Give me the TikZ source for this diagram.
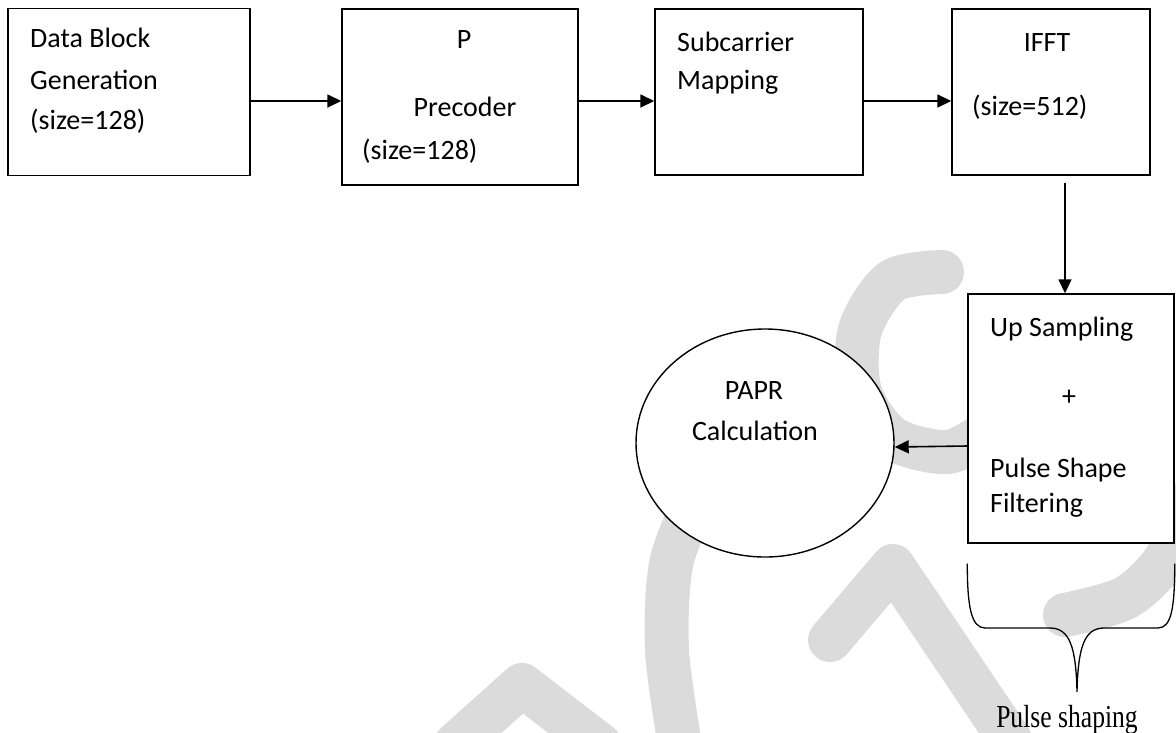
\documentclass[tikz,border=0pt]{standalone}
\usepackage{graphicx}
\usepackage{fontspec}
\setmainfont{Carlito}
\newfontfamily\tnr{Liberation Serif}
\usetikzlibrary{arrows.meta,shapes.geometric}
\begin{document}
\begin{tikzpicture}[x=1pt,y=-1pt,
  box/.style={draw, line width=1.4pt, fill=white, inner sep=0pt},
  arr/.style={line width=1.6pt, -{Triangle[length=14pt,width=13pt]}},
  lbl/.style={inner sep=0pt, font=\fontsize{28}{34}\selectfont},
  wm/.style={draw=black!14, line width=44pt, line cap=round, line join=round}]
\useasboundingbox[fill=white] (0,0) rectangle (1176,732);

% watermark
\draw[wm] plot[smooth] coordinates {(942,272) (892,281) (860,330) (860,392) (892,438) (948,452) (990,430)};
\draw[wm] plot[smooth] coordinates {(1065,615) (1125,598) (1165,560) (1190,500)};
\draw[wm] (830,640) -- (893,566) -- (1010,740);
\draw[wm] plot[smooth] coordinates {(705,480) (672,560) (667,650) (680,745)};
\draw[wm] (455,745) -- (522,685) -- (600,745);

% boxes
\node[box, minimum width=242pt, minimum height=167pt] (b1) at (129,92) {};
\node[box, minimum width=236pt, minimum height=176pt] (b2) at (460,97) {};
\node[box, minimum width=208pt, minimum height=166pt] (b3) at (759,92) {};
\node[box, minimum width=198pt, minimum height=166pt] (b4) at (1051,92) {};
\node[box, minimum width=206pt, minimum height=249pt] (b5) at (1071,418.5) {};
\node[ellipse, draw, line width=1.4pt, fill=white, minimum width=258pt, minimum height=228pt, inner sep=0pt] (pa) at (765,443) {};

% labels
\node[lbl, anchor=mid west] (t1a) at (30,45) {Data Block};
\node[lbl, anchor=mid west] (t1b) at (30,87) {Generation};
\node[lbl, anchor=mid west] (t1c) at (30,127) {(size=128)};
\node[lbl, anchor=mid] (t2a) at (464,46) {P};
\node[lbl, anchor=mid] (t2b) at (465,114) {Precoder};
\node[lbl, anchor=mid west] (t2c) at (362,157) {(size=128)};
\node[lbl, anchor=mid west] (t3a) at (677,49) {Subcarrier};
\node[lbl, anchor=mid west] (t3b) at (677,87) {Mapping};
\node[lbl, anchor=mid] (t4a) at (1047,49) {IFFT};
\node[lbl, anchor=mid west] (t4b) at (972,113) {(size=512)};
\node[lbl, anchor=mid west] (t5a) at (990,334) {Up Sampling};
\node[lbl, anchor=mid] (t5b) at (1069,403) {+};
\node[lbl, anchor=mid west] (t5c) at (990,475) {Pulse Shape};
\node[lbl, anchor=mid west] (t5d) at (990,510) {Filtering};
\node[lbl, anchor=mid] (t6a) at (754,397) {PAPR};
\node[lbl, anchor=mid] (t6b) at (755,438) {Calculation};

% connectors
\coordinate (ay) at (0,101);
\draw[arr] (b1.east |- ay) -- (b2.west |- ay);
\draw[arr] (b2.east |- ay) -- (b3.west |- ay);
\draw[arr] (b3.east |- ay) -- (b4.west |- ay);
\coordinate (vx) at (1065,0);
\coordinate (b4s) at ([yshift=-7pt]b4.south);
\draw[arr] (b4s -| vx) -- (b5.north -| vx);
\coordinate (py) at (0,446);
\draw[arr] (b5.west |- py) -- ([yshift=-4pt]pa.east);

% brace
\coordinate (bl) at ([yshift=-20pt]b5.south west);
\coordinate (br) at ([yshift=-20pt]b5.south east);
\coordinate (tip) at (1077,692);
\draw[line width=1.3pt] (bl) .. controls +(0,42) and +(-14,0) .. (985,628) -- (1050,628)
  .. controls (1070,628) and (1076,648) .. (tip)
  .. controls (1078,648) and (1084,628) .. (1104,628) -- (1158,628)
  .. controls +(14,0) and +(0,42) .. (br);
\node[inner sep=0pt, anchor=base] (ps) at (1067,727) {\tnr\fontsize{32}{36}\selectfont\scalebox{0.8}[1]{Pulse shaping}};
\end{tikzpicture}
\end{document}
